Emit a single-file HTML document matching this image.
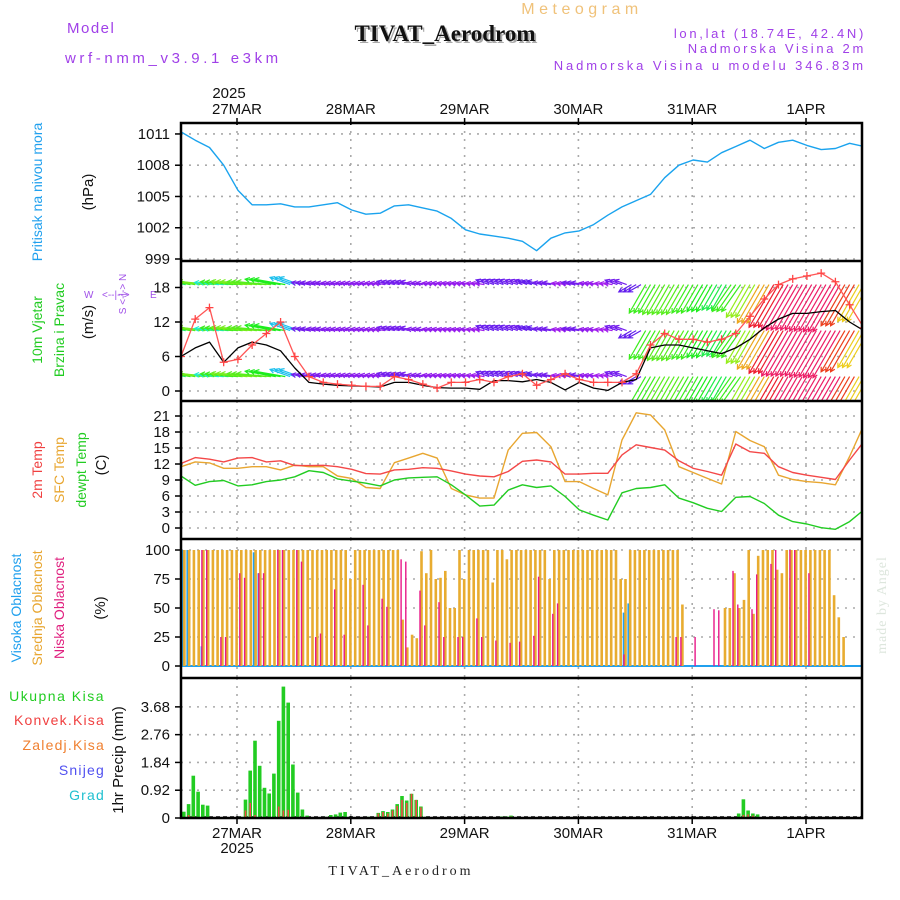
<!DOCTYPE html>
<html><head><meta charset="utf-8"><style>
html,body{margin:0;padding:0;background:#fff;}
svg{display:block;font-family:"Liberation Sans",sans-serif;}
</style></head><body>
<svg id="chart" width="900" height="900" viewBox="0 0 900 900">
<defs>
<clipPath id="c1"><rect x="181" y="123" width="681" height="138"/></clipPath>
<clipPath id="c2"><rect x="181" y="261" width="681" height="140"/></clipPath>
<clipPath id="c3"><rect x="181" y="401" width="681" height="138"/></clipPath>
<clipPath id="c4"><rect x="181" y="539" width="681" height="139"/></clipPath>
<clipPath id="c5"><rect x="181" y="678" width="681" height="140"/></clipPath>
</defs>
<rect width="900" height="900" fill="#fff"/>
<text x="582" y="14" text-anchor="middle" font-size="16" letter-spacing="4.5" fill="#f0c27a">Meteogram</text>
<text x="447" y="43" text-anchor="middle" font-size="23" font-weight="bold" font-family="Liberation Serif,serif" fill="#aaa">TIVAT_Aerodrom</text>
<text x="445" y="41" text-anchor="middle" font-size="23" font-weight="bold" font-family="Liberation Serif,serif" fill="#111">TIVAT_Aerodrom</text>
<text x="67" y="33" font-size="15" letter-spacing="1.5" fill="#a040e8">Model</text>
<text x="65" y="63" font-size="15" fill="#a040e8" letter-spacing="3.6">wrf-nmm_v3.9.1 e3km</text>
<text x="866" y="38" text-anchor="end" font-size="13" letter-spacing="2.7" fill="#a040e8">lon,lat (18.74E, 42.4N)</text>
<text x="866" y="53" text-anchor="end" font-size="13" letter-spacing="2.7" fill="#a040e8">Nadmorska Visina 2m</text>
<text x="866" y="70" text-anchor="end" font-size="13" letter-spacing="2.9" fill="#a040e8">Nadmorska Visina u modelu 346.83m</text>
<text x="229" y="98" text-anchor="middle" font-size="15" fill="#111">2025</text>
<text x="237" y="853" text-anchor="middle" font-size="15" fill="#111">2025</text>
<text x="401" y="875" text-anchor="middle" font-size="14" letter-spacing="3" font-family="Liberation Serif,serif" fill="#222">TIVAT_Aerodrom</text>
<text transform="translate(886,605) rotate(-90)" text-anchor="middle" font-size="14" letter-spacing="1" font-family="Liberation Serif,serif" fill="#dde6dd">made by Angel</text>

<text transform="translate(42,192) rotate(-90)" text-anchor="middle" font-size="14" fill="#20a0ee">Pritisak na nivou mora</text>
<text transform="translate(93,192) rotate(-90)" text-anchor="middle" font-size="15" fill="#111">(hPa)</text>
<text transform="translate(42,330) rotate(-90)" text-anchor="middle" font-size="14" fill="#22cc22">10m Vjetar</text>
<text transform="translate(64,330) rotate(-90)" text-anchor="middle" font-size="14" fill="#22cc22">Brzina i Pravac</text>
<text transform="translate(93,322) rotate(-90)" text-anchor="middle" font-size="15" fill="#111">(m/s)</text>
<g fill="#a050e8" font-size="10">
<text x="84" y="298">W</text><text x="102" y="298">&lt;--|--&gt;</text><text x="150" y="298">E</text>
<text transform="translate(126,294) rotate(-90)" text-anchor="middle">S &lt;-|-&gt; N</text>
</g>
<text transform="translate(42,470) rotate(-90)" text-anchor="middle" font-size="14" fill="#f04040">2m Temp</text>
<text transform="translate(64,470) rotate(-90)" text-anchor="middle" font-size="14" fill="#e8a630">SFC Temp</text>
<text transform="translate(86,470) rotate(-90)" text-anchor="middle" font-size="14" fill="#22cc22">dewpt Temp</text>
<text transform="translate(106,465) rotate(-90)" text-anchor="middle" font-size="15" fill="#111">(C)</text>
<text transform="translate(21,608) rotate(-90)" text-anchor="middle" font-size="14" fill="#20a0ee">Visoka Oblacnost</text>
<text transform="translate(42,608) rotate(-90)" text-anchor="middle" font-size="14" fill="#e8a630">Srednja Oblacnost</text>
<text transform="translate(64,608) rotate(-90)" text-anchor="middle" font-size="14" fill="#e0207f">Niska Oblacnost</text>
<text transform="translate(105,608) rotate(-90)" text-anchor="middle" font-size="15" fill="#111">(%)</text>
<text x="105" y="701" text-anchor="end" font-size="14" letter-spacing="1.5" fill="#22cc22">Ukupna Kisa</text>
<text x="105" y="725" text-anchor="end" font-size="14" letter-spacing="1.2" fill="#f04040">Konvek.Kisa</text>
<text x="105" y="750" text-anchor="end" font-size="14" letter-spacing="1.2" fill="#f08030">Zaledj.Kisa</text>
<text x="105" y="775" text-anchor="end" font-size="14" letter-spacing="1.2" fill="#5050f0">Snijeg</text>
<text x="105" y="800" text-anchor="end" font-size="14" letter-spacing="1.2" fill="#20c0d0">Grad</text>
<text transform="translate(123,760) rotate(-90)" text-anchor="middle" font-size="15" fill="#111">1hr Precip (mm)</text>
<g id="plots"></g>
</svg>
<script>
const dayLabels = ["27MAR","28MAR","29MAR","30MAR","31MAR","1APR"];
const pressTicks = [999,1002,1005,1008,1011];
const windTicks = [0,6,12,18];
const tempTicks = [0,3,6,9,12,15,18,21];
const cloudTicks = [0,25,50,75,100];
const precipTicks = [0,0.92,1.84,2.76,3.68];
const pressure = [1011.2,1010.4,1009.7,1008,1005.6,1004.2,1004.2,1004.3,1004,1004,1004.2,1004.4,1003.7,1003.3,1003.4,1004.1,1004.2,1003.9,1003.6,1002.9,1001.8,1001.4,1001.2,1001,1000.7,999.8,1001,1001.5,1001.7,1002.3,1003.2,1004,1004.6,1005.2,1006.8,1008,1008.5,1008.3,1009.2,1009.8,1010.4,1009.6,1010.2,1010.4,1009.9,1009.5,1009.6,1010.1,1009.8];
const windMean = [6,7.5,8.5,5,7.5,8.5,8,7,4,1.5,1.2,1,0.9,0.8,0.7,1.5,1.5,1,0.6,0.5,0.5,0.3,1.8,1.8,1.6,2,1.5,0.2,1.5,0.5,0.1,1.5,2,7.5,8,8,7.5,7,6.5,7.5,9,11,12.5,13.5,13.5,13.8,14,12,10.5];
const windGust = [6,12.5,14.5,5,5.5,8,10,12,6,2.5,1.5,1.2,1,0.8,0.8,2.5,2,1.2,0.5,1.5,1.5,2,1.5,2.5,3,1,2,3,2,1.5,1.5,1.5,3,8,10,9,9,8.5,9,10,13,16,18.5,19.5,20,20.5,19,15,11];
const windDir = [100,100,95,95,95,95,95,100,110,100,100,100,100,100,100,105,105,100,100,100,100,100,110,110,110,105,100,100,100,100,100,110,60,30,30,30,30,30,30,35,30,30,30,30,30,30,30,30,30];
const temp2m = [12.1,13.2,12.9,12.4,13.1,13.2,12.4,12.6,11.7,11.7,11.75,11.5,11,10.2,10.1,10.9,11,11.3,11.2,10.7,10.1,9.75,9.6,10.6,12.5,12.75,12.4,10.1,10.1,10.25,10.25,13.7,15.6,15.1,14.6,12.6,11.2,10.6,9.9,15.75,14.3,14,11.5,10.4,9.9,9.5,9.1,12.75,16.2,17.4];
const tempSfc = [11.5,12.4,12.2,11.2,11.2,11.5,11.5,10.9,11.8,11.5,11.5,9.75,9.3,7.6,7.4,12.25,13.1,14,13.1,7.4,6.2,5.6,5.6,14.6,17.75,17.9,15.25,8.7,8.7,7.4,6.2,16.5,21.6,21.2,18.4,11.5,10.4,9.3,8.25,18.1,16.4,15.25,9.9,9.1,8.7,8.5,8.1,13.4,19.3,21.2];
const tempDew = [9.75,8,8.7,8.9,7.9,8.1,8.7,9,9.6,10.75,10.4,9.2,8.8,8.4,7.9,9,9.4,9.5,9.6,8.1,6.2,4.1,4.3,7.1,8.1,7.6,7.9,5.9,3.4,2.4,1.5,6.6,7.4,7.6,8.1,5.6,4.75,3.7,3.1,5.75,5.9,4.6,2.4,1.2,0.75,0.06,-0.25,1.2,3.4,4.1];
const cloudMid = [100,100,100,100,100,100,100,100,100,100, 100,100,100,100,100,100,100,100,100,100, 100,100,100,100,100,100,100,100,100,100, 100,100,100,100,100,75,100,100,100,100, 100,100,100,100,100,100,40,16,27,24, 99,80,100,75,76,82,50,50,100,75, 100,100,100,100,100,72,100,100,92,100, 100,100,100,100,100,100,100,75,100,100, 100,100,100,100,100,100,100,100,100,100, 100,100,75,75,100,100,100,100,100,100, 100,100,100,100,100,53,0,0,0,0, 0,0,0,0,50,50,80,50,57,100, 45,95,100,100,100,83,80,100,100,100, 100,100,100,100,100,100,100,61,42,25, 0,0,0,0];
const cloudLow = [0,0,0,0,100,100,0,0,25,25, 0,0,80,76,0,0,80,80,0,0, 100,100,0,0,100,90,0,0,25,28, 0,0,66,0,27,0,0,0,70,35, 0,0,58,51,0,0,92,90,0,0, 65,35,0,0,55,25,0,0,25,25, 0,0,41,25,0,0,22,0,0,20, 0,21,0,0,26,77,0,0,45,54, 0,0,0,0,0,0,0,0,0,0, 0,0,0,10,0,0,0,0,0,0, 0,0,0,0,25,25,0,0,25,0, 0,0,49,48,0,0,82,53,0,0, 49,79,0,0,88,100,0,0,100,100, 0,0,80,0,0,0,0,0,0,0, 0,0,0,0];
const cloudHigh = [100,100,0,0,17,0,0,0,0,0, 0,0,0,0,0,98,80,0,0,0, 0,0,0,0,0,0,0,0,0,0, 0,0,0,0,0,0,0,0,0,0, 0,0,0,0,0,0,0,0,0,0, 0,0,0,0,0,0,0,0,0,0, 0,0,0,0,0,0,0,0,0,0, 0,0,0,0,0,0,0,0,0,0, 0,0,0,0,0,0,0,0,0,0, 0,0,0,46,54,0,0,0,0,0, 0,0,0,0,0,0,0,0,0,0, 0,0,0,0,0,0,0,0,0,0, 0,0,0,0,0,0,0,0,0,0, 0,0,0,0,0,0,0,0,0,0, 0,0,0,0];
const precipTotal = [0.21,0.46,1.40,0.87,0.44,0.41,0,0,0,0, 0,0,0.04,0.61,1.57,2.56,1.73,1.00,0.81,1.47, 3.22,4.35,3.82,1.77,0.84,0.28,0.08,0,0,0, 0.04,0.10,0.12,0.18,0.20,0.04,0,0,0,0.04, 0.02,0.17,0.23,0.20,0.28,0.46,0.73,0.58,0.80,0.60, 0.38,0.04,0,0,0,0,0,0,0,0, 0,0,0,0,0,0,0.03,0.05,0.05,0.08, 0,0,0,0,0,0,0,0,0,0, 0,0,0,0,0,0,0,0,0,0, 0,0,0,0,0,0,0,0,0,0, 0,0,0,0,0,0,0,0,0,0, 0,0,0,0,0,0,0,0.15,0.62,0.25, 0.15,0.12,0,0,0,0,0,0,0,0, 0,0,0,0,0,0,0,0,0,0, 0,0,0,0];
const precipConv = [0,0.10,0.05,0,0,0,0,0,0,0, 0,0,0,0.25,0.50,0.10,0,0,0,0, 0.38,0.25,0.27,0,0,0,0,0,0,0, 0,0,0,0,0,0,0,0,0,0, 0,0.15,0.20,0.15,0.25,0.40,0.60,0.50,0.80,0.60, 0.35,0,0,0,0,0,0,0,0,0, 0,0,0,0,0,0,0,0.02,0.03,0.05, 0,0,0,0,0,0,0,0,0,0, 0,0,0,0,0,0,0,0,0,0, 0,0,0,0,0,0,0,0,0,0, 0,0,0,0,0,0,0,0,0,0, 0,0,0,0,0,0,0,0,0.10,0.12, 0.08,0,0,0,0,0,0,0,0,0, 0,0,0,0,0,0,0,0,0,0, 0,0,0,0];

const NS = "http://www.w3.org/2000/svg";
const root = document.getElementById("plots");
const X0 = 181, X1 = 862, HW = 4.742, DAY0 = 237, DAYW = 113.8;
const xK = k => X0 + k * HW * 3;
const xH = h => X0 + (h + 0.6) * HW;
const xDay = d => DAY0 + d * DAYW;
const yP = v => 259 - (v - 999) * 10.42;
const yW = v => 391 - v * 5.75;
const yT = v => 528 - v * 5.333;
const yC = v => 666 - v * 1.16;
const yR = v => 818 - v * 30.2;
function mk(tag, attrs, parent) {
  const e = document.createElementNS(NS, tag);
  for (const k in attrs) e.setAttribute(k, attrs[k]);
  (parent || root).appendChild(e);
  return e;
}
const panels = [
  {top:123, bot:261, ticks:pressTicks, y:yP, fmt:v=>String(v), name:"pressure", clip:"c1"},
  {top:261, bot:401, ticks:windTicks, y:yW, fmt:v=>String(v), name:"wind", clip:"c2"},
  {top:401, bot:539, ticks:tempTicks, y:yT, fmt:v=>String(v), name:"temperature", clip:"c3"},
  {top:539, bot:678, ticks:cloudTicks, y:yC, fmt:v=>String(v), name:"cloud", clip:"c4"},
  {top:678, bot:818, ticks:precipTicks, y:yR, fmt:v=>v===0?"0":v.toFixed(2), name:"precip", clip:"c5"}
];
const groups = {};
panels.forEach(p => {
  const g = mk("g", {});
  
  
  for (let d = 0; d < dayLabels.length; d++) {
    const l = mk("line", {x1:xDay(d), x2:xDay(d), y1:p.top, y2:p.bot, stroke:"#aaa", "stroke-width":1.6, "stroke-dasharray":"2,6"}, g);
    
    
  }
  p.ticks.forEach(t => {
    const yy = p.y(t);
    const gl = mk("line", {x1:X0, x2:X1, y1:yy, y2:yy, stroke:"#aaa", "stroke-width":1.6, "stroke-dasharray":"2,6"}, g);
    
    
    const tk = mk("line", {x1:X0-6, x2:X0, y1:yy, y2:yy, stroke:"#000", "stroke-width":1.5}, g);
    
    
    const tx = mk("text", {x:170, y:yy+5, "text-anchor":"end", "font-size":15, fill:"#111"}, g);
    
    
    tx.textContent = p.fmt(t);
  });
  const cg = mk("g", {"clip-path":"url(#" + p.clip + ")"});
  
  
  groups[p.name] = cg;
});
function line(arr, xf, yf, color, parent, name, w) {
  const pts = arr.map((v, i) => xf(i).toFixed(1) + "," + yf(v).toFixed(1)).join(" ");
  const pl = mk("polyline", {points:pts, fill:"none", stroke:color, "stroke-width":w||1.4, "stroke-linejoin":"round"}, parent);
  
  
  return pl;
}
line(pressure, xK, yP, "#1aa3ee", groups.pressure, "pressure-line");
const hueStops = [[0,280],[2,260],[3,215],[5,170],[7,120],[9,85],[11,40],[13,340],[20,330]];
function hue(s) {
  for (let i = 1; i < hueStops.length; i++) {
    if (s <= hueStops[i][0]) {
      const a = hueStops[i-1], b = hueStops[i];
      let h0 = a[1], h1 = b[1];
      if (h1 > h0 + 180) h1 -= 360;
      let h = h0 + (h1 - h0) * (s - a[0]) / (b[0] - a[0]);
      return (h + 360) % 360;
    }
  }
  return 330;
}
const rows = [18.5, 10.5, 2.5];
windMean.forEach((s, k) => {
  const to = (windDir[k] + 180) * Math.PI / 180;
  const dx = Math.sin(to), dy = -Math.cos(to);
  const L = 8 + 3.3 * s;
  const col = "hsl(" + hue(s).toFixed(0) + ",85%,52%)";
  for (let j = -1; j <= 1; j++) {
    rows.forEach(r => {
      const bx = xK(k) + j * HW, by = yW(r);
      const tx = bx + dx * L, ty = by + dy * L;
      const ang = Math.atan2(dy, dx);
      const h1x = tx - 5 * Math.cos(ang - 0.5), h1y = ty - 5 * Math.sin(ang - 0.5);
      const h2x = tx - 5 * Math.cos(ang + 0.5), h2y = ty - 5 * Math.sin(ang + 0.5);
      const a = mk("path", {d:"M"+bx.toFixed(1)+","+by.toFixed(1)+"L"+tx.toFixed(1)+","+ty.toFixed(1)+"M"+h1x.toFixed(1)+","+h1y.toFixed(1)+"L"+tx.toFixed(1)+","+ty.toFixed(1)+"L"+h2x.toFixed(1)+","+h2y.toFixed(1), stroke:col, "stroke-width":1.2, fill:"none"}, groups.wind);
      
      
    });
  }
});
line(windMean, xK, yW, "#000", groups.wind, "wind-mean-line", 1.3);
line(windGust, xK, yW, "#f55", groups.wind, "wind-gust-line", 1.3);
windGust.forEach((v, k) => {
  const x = xK(k), y = yW(v);
  const m = mk("path", {d:"M"+(x-4)+","+y+"h8M"+x+","+(y-4)+"v8", stroke:"#f44", "stroke-width":1.3}, groups.wind);
  
  
});
line(tempSfc, xK, yT, "#e8a630", groups.temperature, "sfc-temp-line");
line(temp2m, xK, yT, "#f44848", groups.temperature, "temp-2m-line");
line(tempDew, xK, yT, "#22cc22", groups.temperature, "dewpt-temp-line");
const bl = mk("line", {x1:X0, x2:X1, y1:yC(0), y2:yC(0), stroke:"#20a0ee", "stroke-width":2}, groups.cloud);


function bars(arr, xoff, w, color, yf, parent, name) {
  arr.forEach((v, h) => {
    if (v <= 0) return;
    const x = xH(h) + xoff;
    const r = mk("rect", {x:(x - w/2).toFixed(1), y:yf(v).toFixed(1), width:w, height:(yf(0) - yf(v)).toFixed(1), fill:color}, parent);
    
    
  });
}
bars(cloudHigh, -1.2, 2, "#20a0ee", yC, groups.cloud, "cloud-high-bar");
bars(cloudMid, 0.6, 2.6, "#e8ac30", yC, groups.cloud, "cloud-mid-bar");
bars(cloudLow, -0.9, 1.4, "#e81888", yC, groups.cloud, "cloud-low-bar");
const pb = mk("line", {x1:X0, x2:X1, y1:817, y2:817, stroke:"#000", "stroke-width":1.5, "stroke-dasharray":"4,3"}, groups.precip);


bars(precipTotal, 0, 3.6, "#22cc22", yR, groups.precip, "precip-total-bar");
bars(precipConv, 0, 1.6, "#f44848", yR, groups.precip, "precip-convective-bar");
const frame = mk("g", {});


mk("rect", {x:X0, y:123, width:X1-X0, height:695, fill:"none", stroke:"#000", "stroke-width":2.5}, frame);
[261, 401, 539, 678].forEach(y => {
  const s = mk("line", {x1:X0, x2:X1, y1:y, y2:y, stroke:"#000", "stroke-width":2.5}, frame);
  
  
});
dayLabels.forEach((lab, d) => {
  const x = xDay(d);
  const t1 = mk("text", {x:x, y:114, "text-anchor":"middle", "font-size":15, fill:"#111"});
  
  
  t1.textContent = lab;
  const t2 = mk("text", {x:x, y:838, "text-anchor":"middle", "font-size":15, fill:"#111"});
  
  
  t2.textContent = lab;
  const k1 = mk("line", {x1:x, x2:x, y1:118, y2:125, stroke:"#000", "stroke-width":1.5});
  
  
  const k2 = mk("line", {x1:x, x2:x, y1:816, y2:824, stroke:"#000", "stroke-width":1.5});
  
  
});
</script>
</body></html>
